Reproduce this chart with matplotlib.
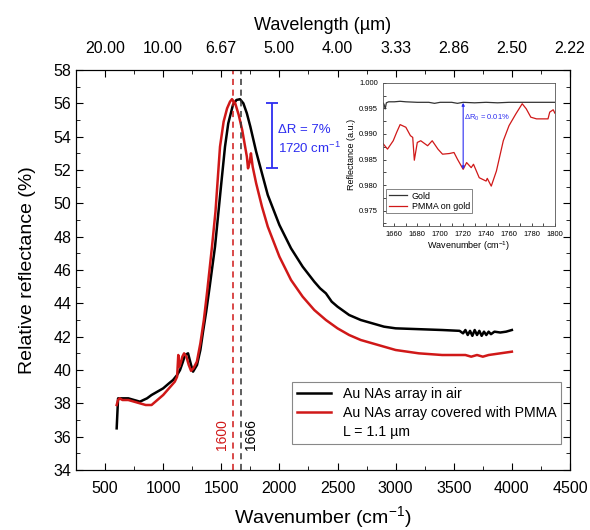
import numpy as np
import matplotlib.pyplot as plt
from matplotlib.lines import Line2D
from matplotlib.ticker import MultipleLocator, FixedLocator

plt.rcParams['font.family'] = ['Liberation Sans', 'DejaVu Sans']
plt.rcParams['mathtext.fontset'] = 'custom'
plt.rcParams['mathtext.rm'] = 'Liberation Sans'

## main spectra
wn_air = [600, 612, 625, 650, 700, 750, 800, 830, 861, 900, 950, 1000, 1050, 1085,
          1120, 1145, 1170, 1188, 1214, 1240, 1257, 1291, 1320, 1343, 1370, 1400,
          1446, 1500, 1532, 1560, 1600, 1630, 1661, 1690, 1720, 1750, 1800, 1850,
          1900, 2000, 2100, 2200, 2300, 2350, 2400, 2450, 2500, 2600, 2700, 2800,
          2900, 3000, 3200, 3400, 3550, 3580, 3600, 3620, 3640, 3660, 3680, 3700,
          3720, 3740, 3760, 3780, 3800, 3820, 3850, 3900, 3950, 4000]
r_air = [36.5, 38.3, 38.3, 38.3, 38.3, 38.2, 38.1, 38.2, 38.3, 38.5, 38.7, 38.9,
         39.2, 39.4, 39.7, 40.0, 40.5, 40.9, 41.0, 40.3, 39.9, 40.3, 41.2, 42.3,
         43.5, 45.0, 47.4, 51.2, 53.4, 54.8, 55.9, 56.2, 56.25, 56.0, 55.4, 54.6,
         53.1, 51.8, 50.5, 48.7, 47.3, 46.2, 45.3, 44.9, 44.6, 44.1, 43.8, 43.3,
         43.0, 42.8, 42.6, 42.5, 42.45, 42.4, 42.35, 42.2, 42.4, 42.1, 42.35, 42.05,
         42.4, 42.1, 42.35, 42.05, 42.3, 42.1, 42.3, 42.15, 42.3, 42.25, 42.3, 42.4]

wn_pmma = [600, 612, 625, 650, 700, 750, 800, 850, 900, 950, 1000, 1050, 1100,
           1120, 1130, 1140, 1150, 1165, 1180, 1200, 1220, 1240, 1260, 1290, 1320,
           1350, 1380, 1420, 1450, 1489, 1520, 1550, 1575, 1592, 1620, 1650, 1680,
           1700, 1720, 1730, 1745, 1755, 1770, 1800, 1850, 1900, 2000, 2100, 2200,
           2300, 2400, 2500, 2600, 2700, 2800, 2900, 3000, 3100, 3200, 3400, 3600,
           3650, 3700, 3750, 3800, 4000]
r_pmma = [37.9, 38.2, 38.3, 38.2, 38.2, 38.1, 38.0, 37.9, 37.9, 38.2, 38.5, 38.9,
          39.3, 39.6, 40.9, 40.2, 40.4, 40.8, 41.0, 40.8, 40.3, 39.95, 40.1, 40.5,
          41.6, 43.0, 44.8, 47.4, 49.5, 53.4, 54.9, 55.7, 56.1, 56.25, 56.0, 55.3,
          54.4, 53.6, 52.8, 52.1, 52.5, 53.0, 52.2, 51.2, 49.8, 48.6, 46.8, 45.4,
          44.4, 43.6, 43.0, 42.5, 42.1, 41.8, 41.6, 41.4, 41.2, 41.1, 41.0, 40.9,
          40.9, 40.8, 40.9, 40.8, 40.9, 41.1]

peak_air = 1666
peak_pmma = 1600

## inset (gold reference vs PMMA on gold)
wn_gold = [1650, 1651, 1652, 1653, 1655, 1660, 1665, 1670, 1680, 1690, 1695, 1700,
           1710, 1715, 1720, 1730, 1740, 1750, 1760, 1770, 1780, 1790, 1800]
r_gold = [0.9961, 0.9958, 0.9949, 0.9961, 0.9963, 0.9963, 0.9964, 0.9963, 0.9962,
          0.9962, 0.9960, 0.9962, 0.9962, 0.9960, 0.9962, 0.9961, 0.9962, 0.9961,
          0.9962, 0.9962, 0.9962, 0.9962, 0.9962]

wn_film = [1650, 1654, 1659, 1662, 1665, 1670, 1674, 1676, 1677.4, 1680, 1683,
           1689, 1693, 1698, 1702, 1708, 1712, 1715, 1720, 1723, 1727, 1729, 1734,
           1740, 1741, 1744.5, 1749, 1755, 1760, 1766, 1771.5, 1775, 1779, 1784,
           1791, 1794, 1795.5, 1798.5, 1800]
r_film = [0.98816, 0.98704, 0.98868, 0.99033, 0.99184, 0.99132, 0.98967, 0.98934,
          0.98487, 0.98835, 0.98868, 0.98770, 0.98868, 0.98704, 0.98605, 0.98618,
          0.98638, 0.98507, 0.98309, 0.98441, 0.98342, 0.98408, 0.98145, 0.98079,
          0.98132, 0.97980, 0.98276, 0.98868, 0.99164, 0.99395, 0.99592, 0.99493,
          0.99329, 0.99296, 0.99296, 0.99296, 0.99428, 0.99474, 0.99408]

red = '#d01818'
blue = '#2d2df0'

fig = plt.figure(figsize=(5.9, 5.3), dpi=100)
ax = fig.add_axes([0.1288, 0.1132, 0.8373, 0.7547])

ax.plot(wn_air, r_air, color='black', lw=1.8, label='Au NAs array in air')
ax.plot(wn_pmma, r_pmma, color=red, lw=1.8, label='Au NAs array covered with PMMA')
ax.axvline(peak_pmma, color=red, ls=(0, (4, 3)), lw=1.1)
ax.axvline(peak_air, color='#333333', ls=(0, (4, 3)), lw=1.1)
ax.text(peak_pmma - 30, 35.2, '1600', color=red, rotation=90, ha='right', va='bottom', fontsize=10)
ax.text(peak_air + 30, 35.2, '1666', color='black', rotation=90, ha='left', va='bottom', fontsize=10)

# delta R bar
ax.errorbar([1934], [54.05], yerr=[[1.95], [1.95]], color=blue, capsize=4, lw=1.3, capthick=1.3)
ax.text(1985, 54.4, 'ΔR = 7%', color=blue, fontsize=9.5, va='center', ha='left')
ax.text(1985, 53.3, '1720 cm$^{-1}$', color=blue, fontsize=9.5, va='center', ha='left')

ax.set_xlim(250, 4500)
ax.set_ylim(34, 58)
ax.xaxis.set_major_locator(MultipleLocator(500))
ax.xaxis.set_minor_locator(MultipleLocator(250))
ax.yaxis.set_major_locator(MultipleLocator(2))
ax.yaxis.set_minor_locator(MultipleLocator(1))
ax.tick_params(which='both', direction='in', right=True, labelsize=11.5)
ax.tick_params(which='major', length=5)
ax.tick_params(which='minor', length=3)
ax.tick_params(axis='x', pad=8)
ax.set_xlabel('Wavenumber (cm$^{-1}$)', fontsize=14, labelpad=6)
ax.set_ylabel('Relative reflectance (%)', fontsize=14, labelpad=12)

handles, labels = ax.get_legend_handles_labels()
handles.append(Line2D([], [], color='none'))
labels.append('L = 1.1 µm')
leg = ax.legend(handles, labels, loc='lower right', bbox_to_anchor=(0.982, 0.066), fontsize=10.2,
                fancybox=False, edgecolor='#888888', framealpha=1, borderpad=0.35,
                handlelength=2.4, labelspacing=0.35, borderaxespad=0)
leg.get_frame().set_linewidth(0.8)

# top axis in wavelength
top = ax.twiny()
top.set_xlim(ax.get_xlim())
ticks = np.arange(500, 4501, 500)
top.xaxis.set_major_locator(FixedLocator(ticks))
top.set_xticklabels(['%.2f' % (10000.0 / t) for t in ticks])
top.xaxis.set_minor_locator(MultipleLocator(250))
top.tick_params(which='both', direction='in', labelsize=11.5, pad=10)
top.tick_params(which='major', length=5)
top.tick_params(which='minor', length=3)
top.set_xlabel('Wavelength (µm)', fontsize=13, labelpad=8)

## inset
ins = fig.add_axes([0.649, 0.5736, 0.2915, 0.27])
ins.plot(wn_gold, r_gold, color='#333333', lw=0.9, label='Gold')
ins.plot(wn_film, r_film, color=red, lw=0.9, label='PMMA on gold')
ins.annotate('', xy=(1720, 0.98309), xytext=(1720, 0.9961),
             arrowprops=dict(arrowstyle='<|-|>', color=blue, lw=0.8, mutation_scale=4,
                             shrinkA=0, shrinkB=0))
ins.text(1721, 0.9932, 'ΔR$_0$ = 0.01%', color=blue, fontsize=5.5, va='center', ha='left')
ins.set_xlim(1650, 1800)
ins.set_ylim(0.972, 1.000)
ins.xaxis.set_major_locator(MultipleLocator(20))
ins.xaxis.set_minor_locator(MultipleLocator(10))
ins.yaxis.set_major_locator(MultipleLocator(0.005))
ins.yaxis.set_minor_locator(MultipleLocator(0.0025))
ins.yaxis.set_major_formatter(plt.FormatStrFormatter('%.3f'))
ins.tick_params(which='both', direction='in', labelsize=5.5, length=2, width=0.5)
for s in ins.spines.values():
    s.set_linewidth(0.6)
    s.set_color('#555555')
ins.set_xlabel('Wavenumber (cm$^{-1}$)', fontsize=6.5, labelpad=1)
ins.set_ylabel('Reflectance (a.u.)', fontsize=6.5, labelpad=2)
il = ins.legend(loc='lower left', bbox_to_anchor=(0.02, 0.09), fontsize=6.4, fancybox=False,
                edgecolor='#555555', framealpha=1, borderpad=0.25, handlelength=2.1,
                handletextpad=0.5, labelspacing=0.15, borderaxespad=0)
il.get_frame().set_linewidth(0.5)

fig.savefig('out.png', dpi=100)
